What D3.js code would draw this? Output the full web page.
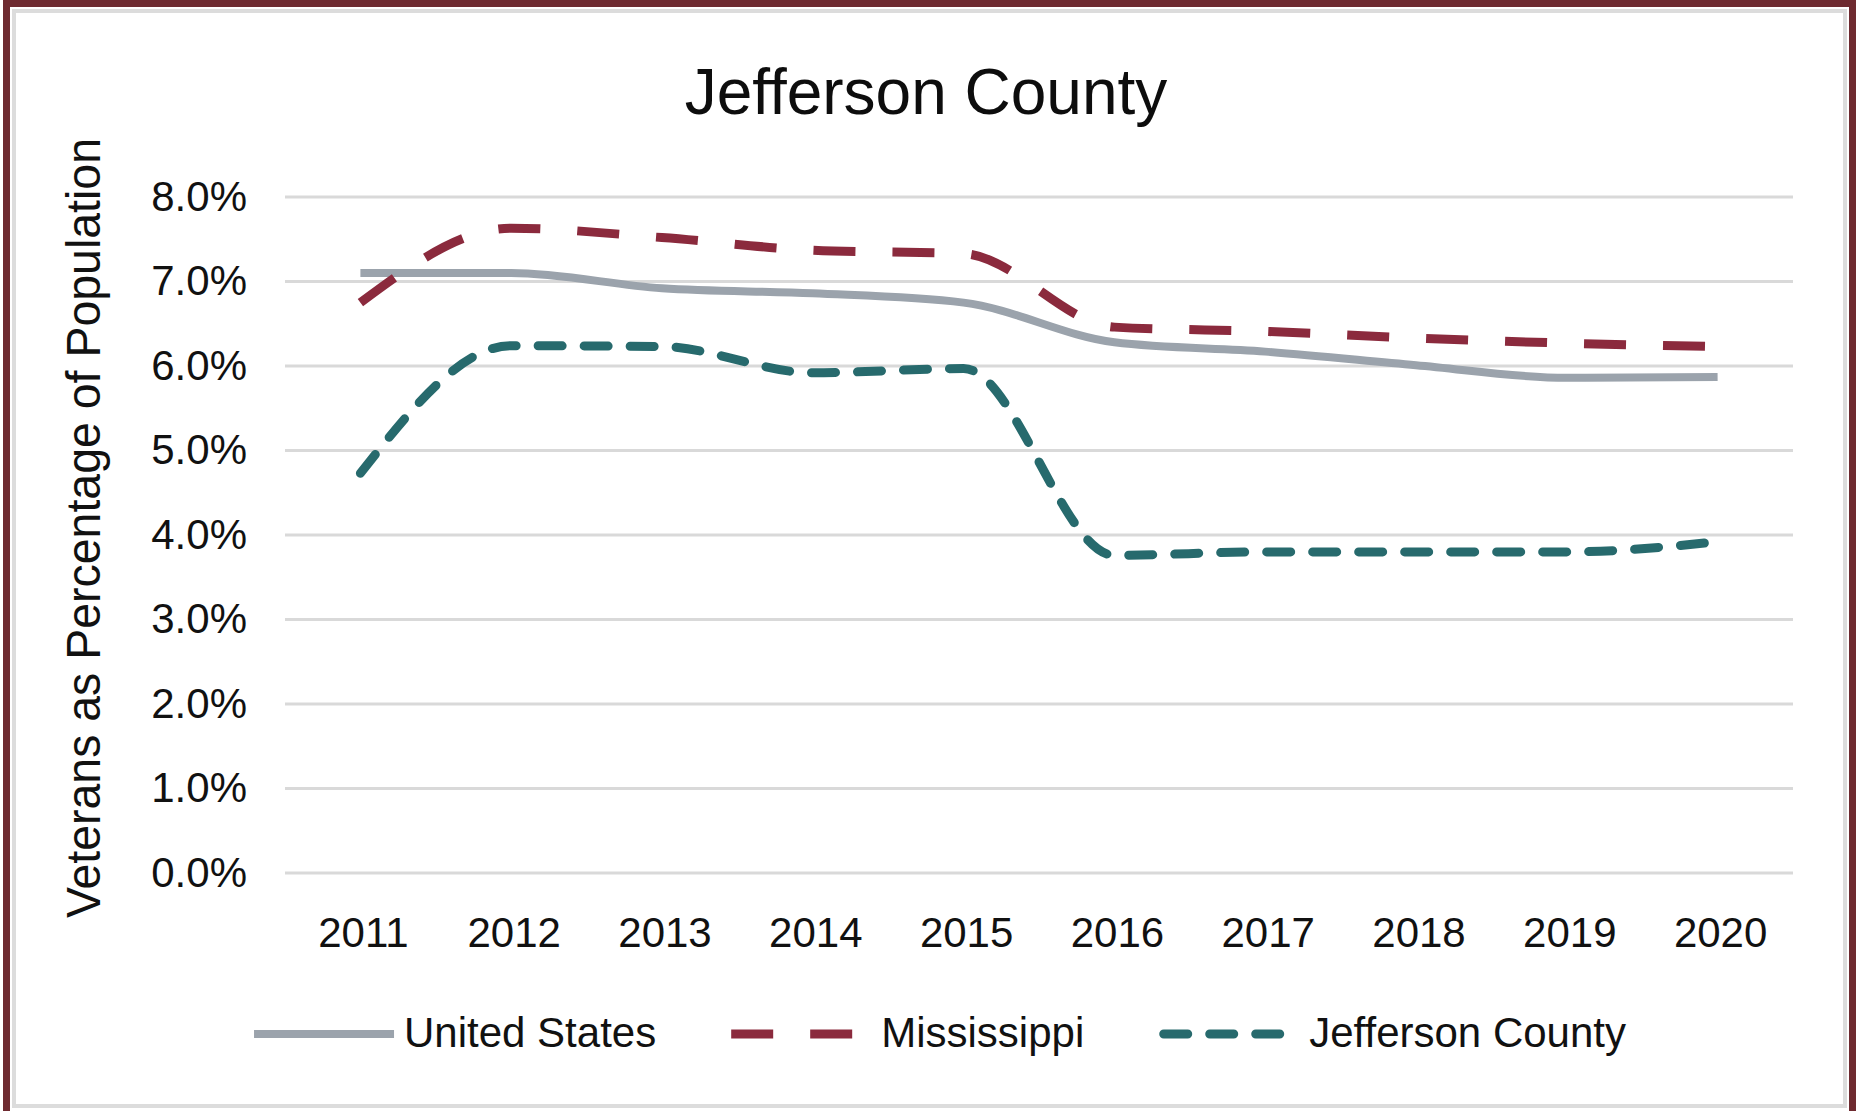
<!DOCTYPE html>
<html>
<head>
    <meta charset="utf-8">
    <script src="https://d3js.org/d3.v7.min.js"></script>
    <style>

    html, body {
        margin: 0;
        padding: 0;
        background: #fff;
    }

    svg {
        display: block;
        font-family: "Liberation Sans", Arial, sans-serif;
    }

    .axis text {
        font-size: 42px;
        fill: #111;
    }

    </style>
</head>
<body>

<svg id="chart"></svg>

<script>

    var width = 1858,
        height = 1111;

    // data
    var years = [2011, 2012, 2013, 2014, 2015, 2016, 2017, 2018, 2019, 2020];
    var yTicks = [0, 1, 2, 3, 4, 5, 6, 7, 8];
    var usValues = [7.10, 7.10, 6.92, 6.86, 6.75, 6.28, 6.17, 6.01, 5.86, 5.87];
    var msValues = [6.75, 7.63, 7.52, 7.37, 7.33, 6.46, 6.41, 6.33, 6.27, 6.23];
    var jcValues = [4.73, 6.24, 6.23, 5.92, 5.97, 3.76, 3.80, 3.80, 3.80, 3.92];
    var seriesNames = ['United States', 'Mississippi', 'Jefferson County'];

    var plot = {left: 285, right: 1793, top: 197, bottom: 873};

    var svg = d3.select('#chart')
        .attr('width', width)
        .attr('height', height);

    // frame
    svg.append('rect')
        .attr('x', 6.5).attr('y', 3.5)
        .attr('width', 1846).attr('height', 1130)
        .attr('fill', 'none')
        .attr('stroke', '#6e2a30')
        .attr('stroke-width', 7);

    svg.append('rect')
        .attr('x', 14).attr('y', 11)
        .attr('width', 1831).attr('height', 1095)
        .attr('fill', 'none')
        .attr('stroke', '#dcdcdc')
        .attr('stroke-width', 4);

    var x = d3.scaleBand()
        .domain(years)
        .range([plot.left, plot.right]);

    var y = d3.scaleLinear()
        .domain([0, 8])
        .range([plot.bottom, plot.top]);

    function cx(d) { return x(d) + x.bandwidth() / 2; }

    // Gridlines
    svg.append('g')
        .selectAll('line')
        .data(yTicks)
        .join('line')
        .attr('x1', plot.left)
        .attr('x2', plot.right)
        .attr('y1', function(d) { return y(d); })
        .attr('y2', function(d) { return y(d); })
        .attr('stroke', '#d9d9d9')
        .attr('stroke-width', 3);

    // Axes
    var yAxis = svg.append('g')
        .attr('class', 'axis')
        .attr('transform', 'translate(' + plot.left + ',0)')
        .call(d3.axisLeft(y)
            .tickValues(yTicks)
            .tickFormat(function(d) { return d.toFixed(1) + '%'; })
            .tickSize(0)
            .tickPadding(38));
    yAxis.select('.domain').remove();

    var xAxis = svg.append('g')
        .attr('class', 'axis')
        .attr('transform', 'translate(3,' + plot.bottom + ')')
        .call(d3.axisBottom(x)
            .tickSize(0)
            .tickPadding(44));
    xAxis.select('.domain').remove();

    svg.selectAll('.axis text')
        .attr('font-family', null)
        .attr('font-size', null);

    // Lines
    var series = [
        {name: seriesNames[0], values: usValues, color: '#9ba3ac', dash: null, cap: 'butt', w: 8, pad: 0},
        {name: seriesNames[1], values: msValues, color: '#8b2a3d', dash: '42 37', cap: 'butt', w: 9, pad: 0},
        {name: seriesNames[2], values: jcValues, color: '#276a6d', dash: '24 22', cap: 'round', w: 9, pad: 4.5}
    ];

    var line = d3.line()
        .x(function(d, i) { return cx(years[i]); })
        .y(function(d) { return y(d); })
        .curve(d3.curveMonotoneX);

    svg.append('g')
        .selectAll('path')
        .data(series)
        .join('path')
        .attr('d', function(s) { return line(s.values); })
        .attr('fill', 'none')
        .attr('stroke', function(s) { return s.color; })
        .attr('stroke-width', function(s) { return s.w; })
        .attr('stroke-dasharray', function(s) { return s.dash; })
        .attr('stroke-linecap', function(s) { return s.cap; });

    // Title
    svg.append('text')
        .attr('x', 926)
        .attr('y', 114)
        .attr('text-anchor', 'middle')
        .attr('font-size', 64)
        .attr('fill', '#0d0d0d')
        .text('Jefferson County');

    svg.append('text')
        .attr('transform', 'translate(100,528) rotate(-90)')
        .attr('text-anchor', 'middle')
        .attr('font-size', 48)
        .attr('textLength', 780)
        .attr('lengthAdjust', 'spacingAndGlyphs')
        .attr('fill', '#111')
        .text('Veterans as Percentage of Population');

    // Legend
    var legend = svg.append('g'),
        lineLen = 140,
        textGap = 10,
        itemGap = 75,
        legendY = 1034;

    var items = legend.selectAll('g')
        .data(series)
        .join('g');

    items.append('line')
        .attr('x1', function(s) { return s.pad; })
        .attr('x2', function(s) { return s.pad ? lineLen - 20 + s.pad : lineLen; })
        .attr('y1', legendY)
        .attr('y2', legendY)
        .attr('stroke', function(s) { return s.color; })
        .attr('stroke-width', function(s) { return s.w; })
        .attr('stroke-dasharray', function(s) { return s.dash; })
        .attr('stroke-linecap', function(s) { return s.cap; });

    items.append('text')
        .attr('x', lineLen + textGap)
        .attr('y', legendY + 13)
        .attr('font-size', 42)
        .attr('fill', '#111')
        .text(function(s) { return s.name; });

    var widths = [],
        total = 0;
    items.each(function() {
        var w = lineLen + textGap + d3.select(this).select('text').node().getComputedTextLength();
        widths.push(w);
        total += w;
    });
    total += itemGap * (series.length - 1);

    var pos = 940 - total / 2;
    items.attr('transform', function(d, i) {
        var t = 'translate(' + pos + ',0)';
        pos += widths[i] + itemGap;
        return t;
    });

</script>
</body>
</html>
